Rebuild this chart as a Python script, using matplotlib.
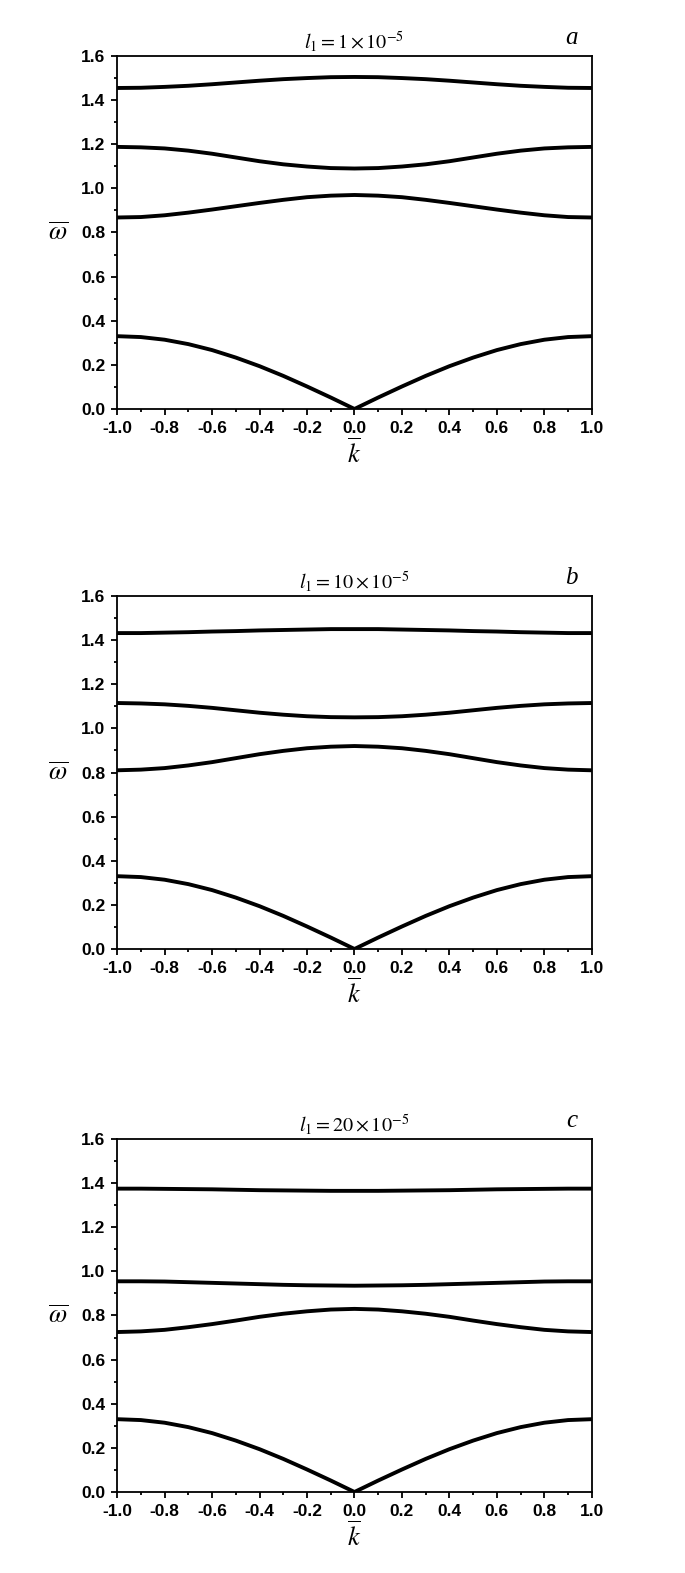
#!/usr/bin/env python3

import matplotlib
matplotlib.use("Agg")
import matplotlib.pyplot as plt

plt.rcParams["mathtext.fontset"] = "stix"
plt.rcParams["font.family"] = ["Liberation Sans", "DejaVu Sans"]

# Wave number grid, read at 0.1 steps.
K = [-1.0, -0.9, -0.8, -0.7, -0.6, -0.5, -0.4, -0.3, -0.2, -0.1, 0.0,
     0.1, 0.2, 0.3, 0.4, 0.5, 0.6, 0.7, 0.8, 0.9, 1.0]

XTICKS = [-1.0, -0.8, -0.6, -0.4, -0.2, 0.0, 0.2, 0.4, 0.6, 0.8, 1.0]
YTICKS = [0.0, 0.2, 0.4, 0.6, 0.8, 1.0, 1.2, 1.4, 1.6]

# Acoustic branch (same in all panels).
ACOUSTIC = [0.330, 0.326, 0.314, 0.294, 0.267, 0.233, 0.194, 0.150, 0.102, 0.052, 0.0,
            0.052, 0.102, 0.150, 0.194, 0.233, 0.267, 0.294, 0.314, 0.326, 0.330]

# Panel a, l1 = 1e-5
A_TOP = [1.455, 1.456, 1.460, 1.465, 1.472, 1.480, 1.488, 1.495, 1.500, 1.504, 1.505,
         1.504, 1.500, 1.495, 1.488, 1.480, 1.472, 1.465, 1.460, 1.456, 1.455]
A_MID = [1.188, 1.186, 1.181, 1.171, 1.157, 1.140, 1.123, 1.109, 1.099, 1.092, 1.090,
         1.092, 1.099, 1.109, 1.123, 1.140, 1.157, 1.171, 1.181, 1.186, 1.188]
A_LOW = [0.868, 0.870, 0.878, 0.890, 0.904, 0.919, 0.934, 0.948, 0.960, 0.967, 0.970,
         0.967, 0.960, 0.948, 0.934, 0.919, 0.904, 0.890, 0.878, 0.870, 0.868]

# Panel b, l1 = 10e-5
B_TOP = [1.432, 1.432, 1.434, 1.436, 1.439, 1.441, 1.444, 1.446, 1.448, 1.450, 1.450,
         1.450, 1.448, 1.446, 1.444, 1.441, 1.439, 1.436, 1.434, 1.432, 1.432]
B_MID = [1.115, 1.113, 1.109, 1.102, 1.093, 1.082, 1.071, 1.062, 1.055, 1.051, 1.050,
         1.051, 1.055, 1.062, 1.071, 1.082, 1.093, 1.102, 1.109, 1.113, 1.115]
B_LOW = [0.810, 0.813, 0.820, 0.832, 0.847, 0.865, 0.883, 0.898, 0.910, 0.917, 0.920,
         0.917, 0.910, 0.898, 0.883, 0.865, 0.847, 0.832, 0.820, 0.813, 0.810]

# Panel c, l1 = 20e-5
C_TOP = [1.375, 1.375, 1.374, 1.373, 1.372, 1.370, 1.368, 1.367, 1.366, 1.365, 1.365,
         1.365, 1.366, 1.367, 1.368, 1.370, 1.372, 1.373, 1.374, 1.375, 1.375]
C_MID = [0.955, 0.955, 0.954, 0.951, 0.948, 0.945, 0.942, 0.939, 0.937, 0.936, 0.935,
         0.936, 0.937, 0.939, 0.942, 0.945, 0.948, 0.951, 0.954, 0.955, 0.955]
C_LOW = [0.725, 0.728, 0.735, 0.747, 0.761, 0.777, 0.794, 0.808, 0.819, 0.827, 0.830,
         0.827, 0.819, 0.808, 0.794, 0.777, 0.761, 0.747, 0.735, 0.728, 0.725]

PANELS = [
    (r"$l_1=1\times10^{-5}$", "a", [A_TOP, A_MID, A_LOW, ACOUSTIC]),
    (r"$l_1=10\times10^{-5}$", "b", [B_TOP, B_MID, B_LOW, ACOUSTIC]),
    (r"$l_1=20\times10^{-5}$", "c", [C_TOP, C_MID, C_LOW, ACOUSTIC]),
]
BOTTOMS = [0.740, 0.3967, 0.0515]

fig = plt.figure(figsize=(6.85, 15.73), dpi=100)

for (title, letter, curves), bottom in zip(PANELS, BOTTOMS):
    ax = fig.add_axes([0.171, bottom, 0.693, 0.2244])
    for w in curves:
        ax.plot(K, w, color="black", lw=2.8, solid_capstyle="butt",
                solid_joinstyle="round")
    ax.set_xlim(-1.0, 1.0)
    ax.set_ylim(0.0, 1.6)
    ax.set_xticks(XTICKS)
    ax.set_yticks(YTICKS)
    ax.xaxis.set_minor_locator(matplotlib.ticker.MultipleLocator(0.1))
    ax.yaxis.set_minor_locator(matplotlib.ticker.MultipleLocator(0.1))
    ax.set_xticklabels(["%.1f" % v for v in XTICKS])
    ax.set_yticklabels(["%.1f" % v for v in YTICKS])
    ax.tick_params(which="both", direction="out", width=1.3, top=False, right=False,
                   labelsize=12.5)
    ax.tick_params(which="major", length=4.5, pad=4)
    ax.tick_params(which="minor", length=2.5)
    for lab in ax.get_xticklabels() + ax.get_yticklabels():
        lab.set_fontweight("bold")
    for sp in ax.spines.values():
        sp.set_linewidth(1.3)
    ax.set_title(title, fontsize=14.5, pad=5)
    ax.text(0.97, 1.02, letter, transform=ax.transAxes, fontsize=18,
            fontstyle="italic", family="Liberation Serif", ha="right", va="bottom")
    ax.set_xlabel(r"$\overline{k}$", fontsize=19, labelpad=2)
    ax.set_ylabel(r"$\overline{\omega}$", fontsize=19, rotation=0, va="center")
    ax.yaxis.set_label_coords(-0.125, 0.5)

fig.savefig("out.png", dpi=100)
